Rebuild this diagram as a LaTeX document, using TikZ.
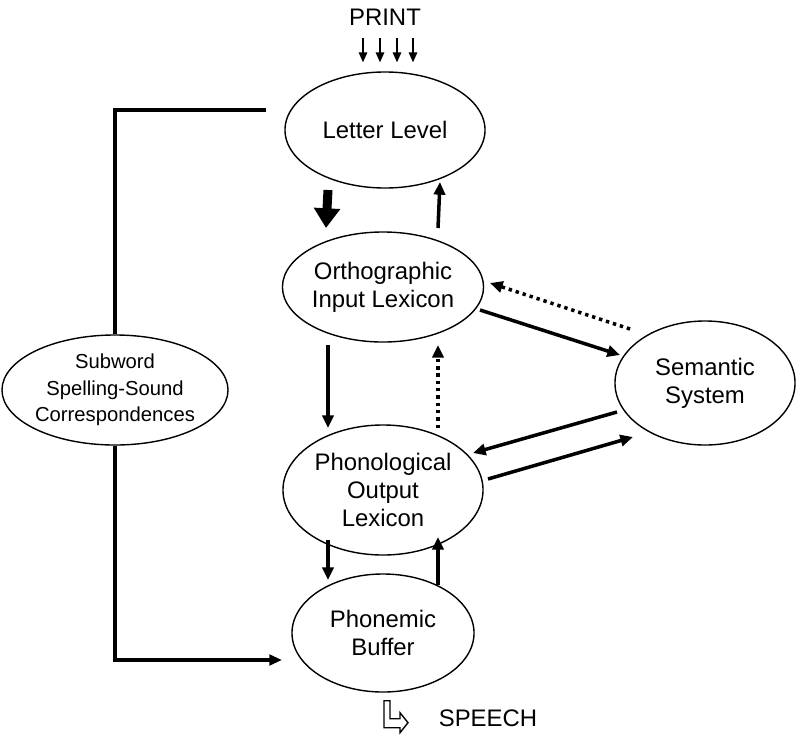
\documentclass[tikz,border=0pt]{standalone}
\usepackage{fontspec}
\setmainfont{Liberation Sans}
\usetikzlibrary{shapes.geometric, arrows.meta, calc, positioning}

\tikzset{
  blob/.style={ellipse, draw, line width=1pt, inner sep=0pt, align=center,
    font=\fontsize{17}{20}\selectfont},
  flow/.style={line width=2.5pt, -{Triangle[length=9pt,width=8pt]}},
  back/.style={flow, dash pattern=on 2.4pt off 2.8pt},
  fat/.style={line width=6.4pt, -{Triangle[length=14pt,width=18pt]}},
  route/.style={line width=2.2pt},
  feed/.style={line width=1.1pt, -{Triangle[length=7pt,width=6pt]}},
}

\begin{document}
\begin{tikzpicture}[x=0.025cm, y=-0.025cm]
    \useasboundingbox (0,0) rectangle (800,736);
    \node (PRINT) at (385,17) {\fontsize{17}{20}\selectfont PRINT};
    \node[blob, minimum width=5cm, minimum height=2.9cm] (LL) at (385,130) {Letter Level};
    \node[blob, minimum width=4.875cm, minimum height=2.75cm] (OIL) at (383,287) {Orthographic\\Input Lexicon};
    \node[blob, minimum width=5cm, minimum height=3.25cm] (POL) at (383,490) {Phonological\\Output\\Lexicon};
    \node[blob, minimum width=4.55cm, minimum height=2.95cm] (PB) at (383,633) {Phonemic\\Buffer};
    \node[blob, minimum width=4.5cm, minimum height=3.1cm] (SS) at (705,383) {Semantic\\System};
    \node[blob, minimum width=5cm, minimum height=2.75cm, font=\fontsize{14.4}{19}\selectfont] (SW) at (115,390)
        {Subword\\Spelling-Sound\\Correspondences};
    \node (SPEECH) at (488,718) {\fontsize{17}{20}\selectfont SPEECH};
    % print input
    \foreach \dx in {-22,-5,12,28}
        \draw[feed] ($(PRINT)+(\dx,21)$) -- ($(LL.north)+(\dx,-9)$);
    % vertical pathway
    \draw[fat] ($(LL)+(-57,60)$) -- ($(OIL)+(-57,-59)$);
    \draw[flow] ($(OIL)+(55,-59)$) -- ($(LL)+(55,52)$);
    \draw[flow] ($(OIL)+(-55,58)$) -- ($(POL)+(-55,-62)$);
    \draw[back] ($(POL)+(55,-62)$) -- ($(OIL)+(55,58)$);
    \draw[flow] ($(POL)+(-55,50)$) -- ($(PB)+(-55,-53)$);
    \draw[flow] ($(PB)+(55,-48)$) -- ($(POL)+(55,47)$);
    % semantic links
    \draw[flow] ($(OIL)+(97,23)$) -- ($(SS)+(-85,-28)$);
    \draw[back] ($(SS)+(-75,-54)$) -- ($(OIL)+(107,-4)$);
    \draw[flow] ($(SS)+(-88,29)$) -- ($(POL)+(90,-37)$);
    \draw[flow] ($(POL)+(105,-11)$) -- ($(SS)+(-72,54)$);
    % subword route
    \draw[route] ($(LL.west)+(-18,-20)$) -| (SW.north);
    \draw[route, -{Triangle[length=9pt,width=7.5pt]}] (SW.south) |- ($(PB)+(-101,27)$);
    % speech output
    \draw[line width=1pt, line join=miter] ($(PB.south)+(1,8)$) -- ++(6,0) -- ++(0,18) -- ++(10,0)
        -- ++(0,-6) -- ++(8,10) -- ++(-8,10) -- ++(0,-5) -- ++(-16,0) -- cycle;
\end{tikzpicture}
\end{document}
